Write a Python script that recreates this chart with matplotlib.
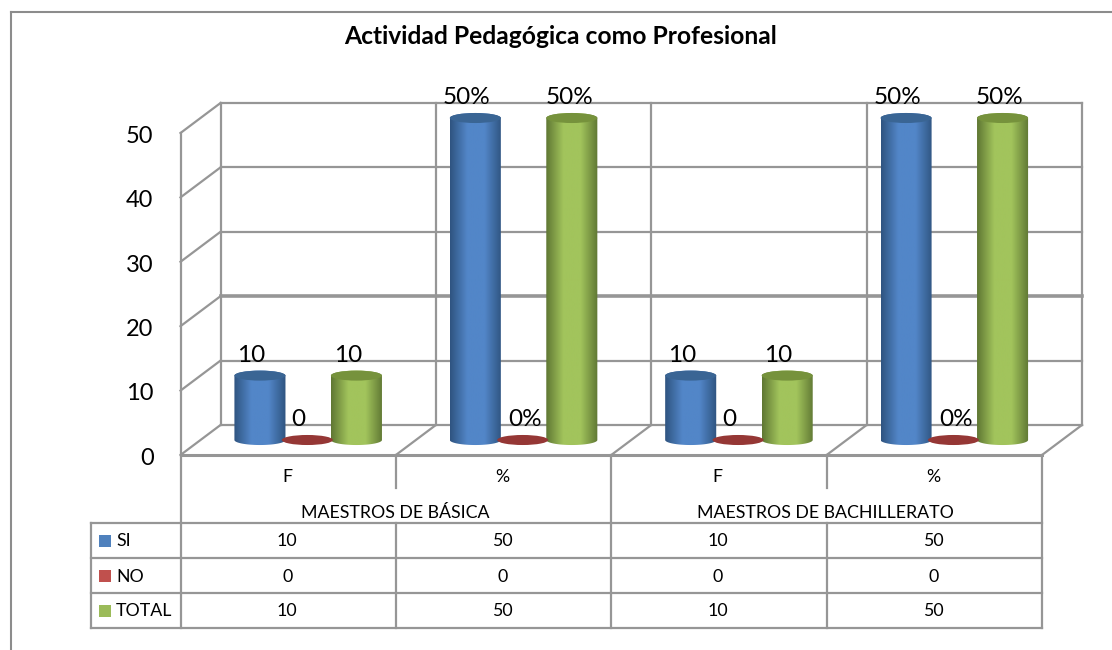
import numpy as np
import matplotlib
matplotlib.use("Agg")
import matplotlib.pyplot as plt
from matplotlib.colors import LinearSegmentedColormap
from matplotlib.patches import Ellipse, Polygon, Rectangle

plt.rcParams['font.family'] = ['Lato', 'DejaVu Sans']

# Data
title = "Actividad Pedagógica como Profesional"
categories = ["F", "%", "F", "%"]
groups = ["MAESTROS DE BÁSICA", "MAESTROS DE BACHILLERATO"]
seriesNames = ["SI", "NO", "TOTAL"]
si = [10, 50, 10, 50]
no = [0, 0, 0, 0]
total = [10, 50, 10, 50]
barLabels = {
    "SI": ["10", "50%", "10", "50%"],
    "NO": ["0", "0%", "0", "0%"],
    "TOTAL": ["10", "50%", "10", "50%"],
}
yTicks = [0, 10, 20, 30, 40, 50]

# Colours: (light centre, dark edge, top cap, legend swatch)
colors = {
    "SI": ("#5286C8", "#2F5480", "#3A6594", "#4F81BD"),
    "NO": ("#C0504D", "#8C3532", "#953735", "#C0504D"),
    "TOTAL": ("#A2C45C", "#5F7733", "#76923C", "#9BBB59"),
}
gridColor = "#969696"

W, H = 1112, 650
fig = plt.figure(figsize=(W / 100, H / 100), dpi=100, facecolor="white")

# Overlay in pixel coordinates, for frame and data table
px = fig.add_axes([0, 0, 1, 1])
px.set_xlim(0, W)
px.set_ylim(H, 0)
px.axis("off")

# Main axes is the front plane of the 3D box
left, right, y0, y50 = 180.5, 1042, 455, 133
ax = fig.add_axes([left / W, 1 - y0 / H, (right - left) / W, (y0 - y50) / H])
ax.axis("off")
ax.patch.set_alpha(0)

unitX = (right - left) / 4
unitY = (y0 - y50) / 50
depthX = 40 / unitX
depthY = 30 / unitY


def wall(x1, y1, x2, y2, lw=1.6, color=gridColor, zorder=1):
    ax.plot([x1, x2], [y1, y2], color=color, lw=lw, clip_on=False, zorder=zorder,
            solid_capstyle="projecting")


# Floor, side wall and back wall
for v in yTicks:
    heavy = v == 20
    wall(0, v, depthX, v + depthY)
    wall(depthX, v + depthY, 4 + depthX, v + depthY, lw=2.6 if heavy else 1.6)
wall(0, 0, 0, 50)
wall(depthX, depthY, depthX, 50 + depthY)
wall(0, 0, 4, 0, lw=2.2)
for i in range(1, 5):
    wall(i + depthX, depthY, i + depthX, 50 + depthY)
    wall(i, 0, i + depthX, depthY)

# Cylinders
barWidth = 0.237
capHeight = 0.78 * 2
offsets = [-0.224, -0.004, 0.224]
seriesValues = [si, no, total]


def cylinder(xc, value, name):
    light, dark, cap, _ = colors[name]
    x1, x2 = xc - barWidth / 2, xc + barWidth / 2
    base = depthY / 2
    top = base + value
    if value > 0:
        t = np.linspace(0, np.pi, 40)
        xs = xc + barWidth / 2 * np.cos(t)
        lower = base - capHeight / 2 * np.sin(t)
        upper = top + capHeight / 2 * np.sin(t)
        outline = np.r_[np.c_[xs[::-1], lower[::-1]], np.c_[xs, upper]]
        clip = Polygon(outline, closed=True, transform=ax.transData, fc="none", ec="none", clip_on=False)
        ax.add_patch(clip)
        cmap = LinearSegmentedColormap.from_list("c", [dark, light, light, dark], N=128)
        im = ax.imshow(np.linspace(0, 1, 128).reshape(1, -1), cmap=cmap, aspect="auto",
                       extent=[x1, x2, base - capHeight, top + capHeight], zorder=3)
        im.set_clip_box(fig.bbox)
        im.set_clip_path(clip)
    ax.add_patch(Ellipse((xc, top), barWidth, capHeight, fc=cap, ec="none", zorder=4, clip_on=False))


for s, name in enumerate(seriesNames):
    for i, value in enumerate(seriesValues[s]):
        xc = i + 0.5 + depthX / 2 + offsets[s]
        cylinder(xc, value, name)
        label = barLabels[name][i]
        shift = -0.04
        if label == "0%":
            shift = 0.012
        elif label == "50%" and name == "TOTAL":
            shift = -0.012
        ax.text(xc + shift, depthY / 2 + value + 1.55, label,
                ha="center", va="bottom", fontsize=17.5, color="black", zorder=5, clip_on=False)

# Value axis labels
for v in yTicks:
    ax.text(-0.125, v - 0.5, str(v), ha="right", va="center", fontsize=17, color="black", clip_on=False)

ax.set_xlim(0, 4)
ax.set_ylim(0, 50)

# Title
px.text(561, 36, title, ha="center", va="center", fontsize=17.7, fontweight="bold", color="black")

# Outer frame
line = dict(color="#8C8C8C", lw=1.5)
px.plot([11, 11], [650, 12], **line)
px.plot([11, W], [12, 12], **line)

# Data table
colX = [left + i * unitX for i in range(5)]
rowY = [523, 558, 593, 628]
tableX = 91
tline = dict(color=gridColor, lw=1.6, solid_capstyle="projecting")
for y in rowY:
    px.plot([tableX, right], [y, y], **tline)
px.plot([tableX, tableX], [rowY[0], rowY[-1]], **tline)
for x in [colX[0], colX[2], colX[4]]:
    px.plot([x, x], [455, rowY[-1]], **tline)
for x in [colX[1], colX[3]]:
    px.plot([x, x], [455, 488], **tline)
    px.plot([x, x], [rowY[0], rowY[-1]], **tline)

tableFont = 12.8
for i, cat in enumerate(categories):
    px.text(colX[i] + unitX / 2 - 1, 477, cat, ha="center", va="center", fontsize=tableFont)
for i, g in enumerate(groups):
    px.text(colX[2 * i] + unitX - 1, 512.5, g, ha="center", va="center", fontsize=tableFont)
for r, name in enumerate(seriesNames):
    yc = (rowY[r] + rowY[r + 1]) / 2
    px.add_patch(Rectangle((99, yc - 6), 12, 12, fc=colors[name][3], ec="none"))
    px.text(116, yc + 1, name, ha="left", va="center", fontsize=tableFont)
    for i, value in enumerate(seriesValues[r]):
        px.text(colX[i] + unitX / 2 - 1, yc + 1, str(value), ha="center", va="center", fontsize=tableFont)

fig.savefig("out.png", dpi=100)
